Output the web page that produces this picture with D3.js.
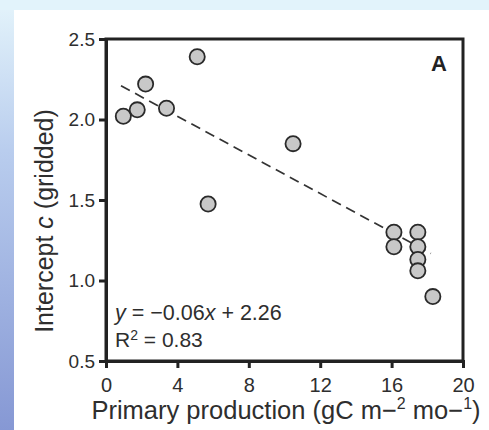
<!DOCTYPE html>
<html>
<head>
<meta charset="utf-8">
<script src="https://cdn.jsdelivr.net/npm/d3@7"></script>
<style>
  html, body { margin: 0; padding: 0; }
  body { width: 489px; height: 430px; overflow: hidden; }
</style>
</head>
<body>
<svg id="chart" width="489" height="430"></svg>
<script>
// Data
var production = [0.97, 1.75, 2.22, 3.39, 5.11, 5.72, 10.48, 16.13, 16.13, 17.47, 17.47, 17.47, 17.47, 18.31];
var intercept  = [2.02, 2.06, 2.22, 2.07, 2.39, 1.475, 1.85, 1.30, 1.21, 1.30, 1.21, 1.13, 1.06, 0.90];

var xTicks = [0, 4, 8, 12, 16, 20];
var yTicks = [0.5, 1.0, 1.5, 2.0, 2.5];

// fitted line y = slope*x + offset, drawn over this x range
var slope = -0.06;
var offset = 2.26;
var fitRange = [0.84, 18.2];

var width = 489, height = 430;
var plot = {left: 106, right: 463, top: 39, bottom: 361};
var font = "'Liberation Sans', Arial, Helvetica, sans-serif";
var textColor = "#2e2e2e";

var svg = d3.select("svg#chart");

// blue slide background showing at the left and top edges
var defs = svg.append("defs");
var grad = defs.append("linearGradient")
  .attr("id", "bgGrad")
  .attr("x1", 0).attr("y1", 0).attr("x2", 0).attr("y2", 1);
grad.append("stop").attr("offset", "0%").attr("stop-color", "#e4f4fb");
grad.append("stop").attr("offset", "35%").attr("stop-color", "#b9cdee");
grad.append("stop").attr("offset", "100%").attr("stop-color", "#8698d4");

svg.append("rect")
  .attr("width", width).attr("height", height)
  .attr("fill", "url(#bgGrad)");
svg.append("rect")
  .attr("width", width).attr("height", 10)
  .attr("fill", "#e2f3fb");
svg.append("rect")
  .attr("x", 14).attr("y", 10)
  .attr("width", width - 14).attr("height", height - 10)
  .attr("fill", "#ffffff");

var x = d3.scaleLinear().domain([0, 20]).range([plot.left, plot.right]);
var y = d3.scaleLinear().domain([0.5, 2.5]).range([plot.bottom, plot.top]);

var axisColor = "#222";

// frame (top and right sides)
svg.append("rect")
  .attr("x", plot.left).attr("y", plot.top)
  .attr("width", plot.right - plot.left).attr("height", plot.bottom - plot.top)
  .attr("fill", "none")
  .attr("stroke", axisColor)
  .attr("stroke-width", 3);

var xAxis = svg.append("g")
  .attr("transform", "translate(0," + plot.bottom + ")")
  .call(d3.axisBottom(x).tickValues(xTicks).tickSize(7).tickPadding(10).tickFormat(d3.format("d")));

var yAxis = svg.append("g")
  .attr("transform", "translate(" + plot.left + ",0)")
  .call(d3.axisLeft(y).tickValues(yTicks).tickSize(7).tickPadding(4).tickFormat(d3.format(".1f")));

xAxis.attr("font-size", 20);
yAxis.attr("font-size", 19);

[xAxis, yAxis].forEach(function(g) {
  g.attr("font-family", font);
  g.select(".domain").attr("stroke", axisColor).attr("stroke-width", 3);
  g.selectAll(".tick line").attr("stroke", axisColor).attr("stroke-width", 3);
  g.selectAll(".tick text").attr("fill", textColor);
});

// dashed regression line
svg.append("line")
  .attr("x1", x(fitRange[0]))
  .attr("y1", y(slope * fitRange[0] + offset))
  .attr("x2", x(fitRange[1]))
  .attr("y2", y(slope * fitRange[1] + offset))
  .attr("stroke", "#333")
  .attr("stroke-width", 1.7)
  .attr("stroke-dasharray", "10,6");

// points
var points = d3.zip(production, intercept);
svg.selectAll("circle.pt")
  .data(points)
  .enter().append("circle")
  .attr("class", "pt")
  .attr("cx", d => x(d[0]))
  .attr("cy", d => y(d[1]))
  .attr("r", 7.6)
  .attr("fill", "#c8c8c8")
  .attr("stroke", "#2a2a2a")
  .attr("stroke-width", 1.8);

// panel letter
svg.append("text")
  .attr("x", 439).attr("y", 71)
  .attr("text-anchor", "middle")
  .attr("font-family", font)
  .attr("font-weight", "bold")
  .attr("font-size", 22)
  .attr("fill", "#222")
  .text("A");

// equation
var eq = svg.append("text")
  .attr("x", 115).attr("y", 320)
  .attr("font-family", font)
  .attr("font-size", 21.5)
  .attr("fill", textColor);
eq.append("tspan").attr("font-style", "italic").text("y");
eq.append("tspan").text(" = \u22120.06");
eq.append("tspan").attr("font-style", "italic").text("x");
eq.append("tspan").text(" + 2.26");

var r2 = svg.append("text")
  .attr("x", 115).attr("y", 347)
  .attr("font-family", font)
  .attr("font-size", 21)
  .attr("fill", textColor);
r2.append("tspan").text("R");
r2.append("tspan").attr("font-size", 14).attr("dy", -7).text("2");
r2.append("tspan").attr("dy", 7).text(" = 0.83");

// x axis title
var xt = svg.append("text")
  .attr("x", 286).attr("y", 419)
  .attr("text-anchor", "middle")
  .attr("font-family", font)
  .attr("font-size", 25.5)
  .attr("fill", textColor);
xt.append("tspan").text("Primary production (gC m\u2212");
xt.append("tspan").attr("font-size", 16).attr("dy", -10).text("2");
xt.append("tspan").attr("dy", 10).text(" mo\u2212");
xt.append("tspan").attr("font-size", 16).attr("dy", -10).text("1");
xt.append("tspan").attr("dy", 10).text(")");

// y axis title
var yt = svg.append("text")
  .attr("transform", "translate(53,221) rotate(-90)")
  .attr("text-anchor", "middle")
  .attr("font-family", font)
  .attr("font-size", 25)
  .attr("fill", textColor);
yt.append("tspan").text("Intercept ");
yt.append("tspan").attr("font-style", "italic").text("c");
yt.append("tspan").text(" (gridded)");
</script>
</body>
</html>
